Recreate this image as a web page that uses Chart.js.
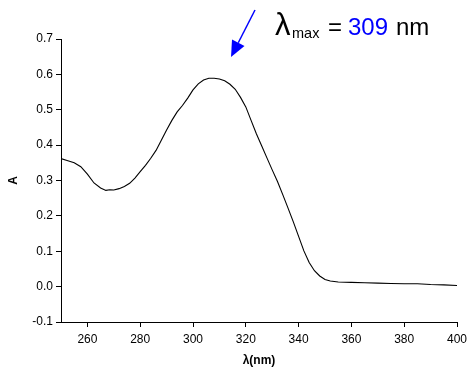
<!DOCTYPE html>
<html><head><meta charset="utf-8">
<script src="https://cdn.jsdelivr.net/npm/chart.js@4"></script>
<style>html,body{margin:0;padding:0;background:#fff}#wrap{width:467px;height:371px}</style>
</head><body><div id="wrap"><canvas id="c" width="467" height="371"></canvas></div>
<script>
const wavelength = [250,252,255,257.5,260,262.5,265,267,268.5,270,272,274,276,278,280,282,284,286,288,290,292,294,296,298,300,302,304,306,308,310,312,314,316,318,320,322,324,326,328,330,332,334,336,338,340,342,344,346,348,350,352,355,360,365,370,375,380,385,390,395,400];
const absorbance = [0.362,0.357,0.350,0.339,0.318,0.293,0.279,0.272,0.274,0.273,0.277,0.283,0.292,0.307,0.325,0.343,0.363,0.385,0.414,0.443,0.470,0.494,0.512,0.533,0.556,0.573,0.584,0.589,0.589,0.587,0.582,0.572,0.558,0.535,0.508,0.470,0.432,0.398,0.364,0.330,0.297,0.260,0.222,0.183,0.142,0.101,0.068,0.045,0.030,0.020,0.016,0.013,0.012,0.011,0.010,0.009,0.008,0.008,0.006,0.005,0.003];
const xTicks = [260,280,300,320,340,360,380,400];
const yTicks = [-0.1,0.0,0.1,0.2,0.3,0.4,0.5,0.6,0.7];
const lambdaMax = 309;

const FONT = "'Liberation Sans', Arial, sans-serif";
const annot = {
  id: 'annot',
  afterDraw(chart) {
    const ctx = chart.ctx;
    ctx.save();
    ctx.strokeStyle = '#0000ff'; ctx.fillStyle = '#0000ff'; ctx.lineWidth = 1.5;
    const x0 = 255, y0 = 10, x1 = 231, y1 = 57;
    const ang = Math.atan2(y1 - y0, x1 - x0);
    const hl = 16, hw = 7;
    const bx = x1 - hl * Math.cos(ang), by = y1 - hl * Math.sin(ang);
    ctx.beginPath(); ctx.moveTo(x0, y0); ctx.lineTo(bx, by); ctx.stroke();
    ctx.beginPath();
    ctx.moveTo(x1, y1);
    ctx.lineTo(bx + hw * Math.sin(ang), by - hw * Math.cos(ang));
    ctx.lineTo(bx - hw * Math.sin(ang), by + hw * Math.cos(ang));
    ctx.closePath(); ctx.fill();
    ctx.textBaseline = 'alphabetic'; ctx.textAlign = 'left';
    const base = 35;
    ctx.fillStyle = '#000';
    ctx.font = '31px ' + FONT;
    ctx.fillText('λ', 275, base);
    ctx.font = '14.5px ' + FONT;
    ctx.fillText('max', 292, base + 3);
    ctx.font = '24px ' + FONT;
    ctx.fillText('=', 328, base);
    ctx.fillStyle = '#0000ff';
    ctx.fillText(String(lambdaMax), 348, base);
    ctx.fillStyle = '#000';
    ctx.fillText('nm', 396, base);
    ctx.restore();
  }
};

new Chart(document.getElementById('c'), {
  type: 'scatter',
  data: { datasets: [{
    data: wavelength.map((w, i) => ({x: w, y: absorbance[i]})),
    showLine: true, borderColor: '#000', borderWidth: 1.1, pointRadius: 0, tension: 0, fill: false
  }]},
  plugins: [annot],
  options: {
    responsive: false, animation: false,
    layout: { padding: { top: 39, right: 0, bottom: 0, left: 0 } },
    plugins: { legend: { display: false }, tooltip: { enabled: false } },
    scales: {
      x: {
        type: 'linear', min: 250, max: 400,
        afterBuildTicks: s => { s.ticks = xTicks.map(v => ({value: v})); },
        afterFit: s => { s.height = 49; s.paddingRight = 10; s.paddingLeft = 0; },
        grid: { drawOnChartArea: false, drawTicks: true, tickLength: 5, color: '#000' },
        border: { display: true, color: '#000', width: 1 },
        ticks: { color: '#000', font: { family: FONT, size: 12 }, padding: 5, maxRotation: 0 },
        title: { display: true, text: 'λ(nm)', color: '#000', font: { family: FONT, size: 12, weight: 'bold' }, padding: { top: 8, bottom: 3 } }
      },
      y: {
        type: 'linear', min: -0.1, max: 0.7,
        afterBuildTicks: s => { s.ticks = yTicks.map(v => ({value: v})); },
        afterFit: s => { s.width = 61; s.paddingTop = 0; s.paddingBottom = 0; },
        grid: { drawOnChartArea: false, drawTicks: true, tickLength: 5, color: '#000' },
        border: { display: true, color: '#000', width: 1 },
        ticks: { color: '#000', font: { family: FONT, size: 12 }, padding: 3, callback: v => Number(v).toFixed(1) },
        title: { display: true, text: 'A', color: '#000', font: { family: FONT, size: 12, weight: 'bold' }, padding: { top: 6, bottom: 6 } }
      }
    }
  }
});
</script></body></html>
